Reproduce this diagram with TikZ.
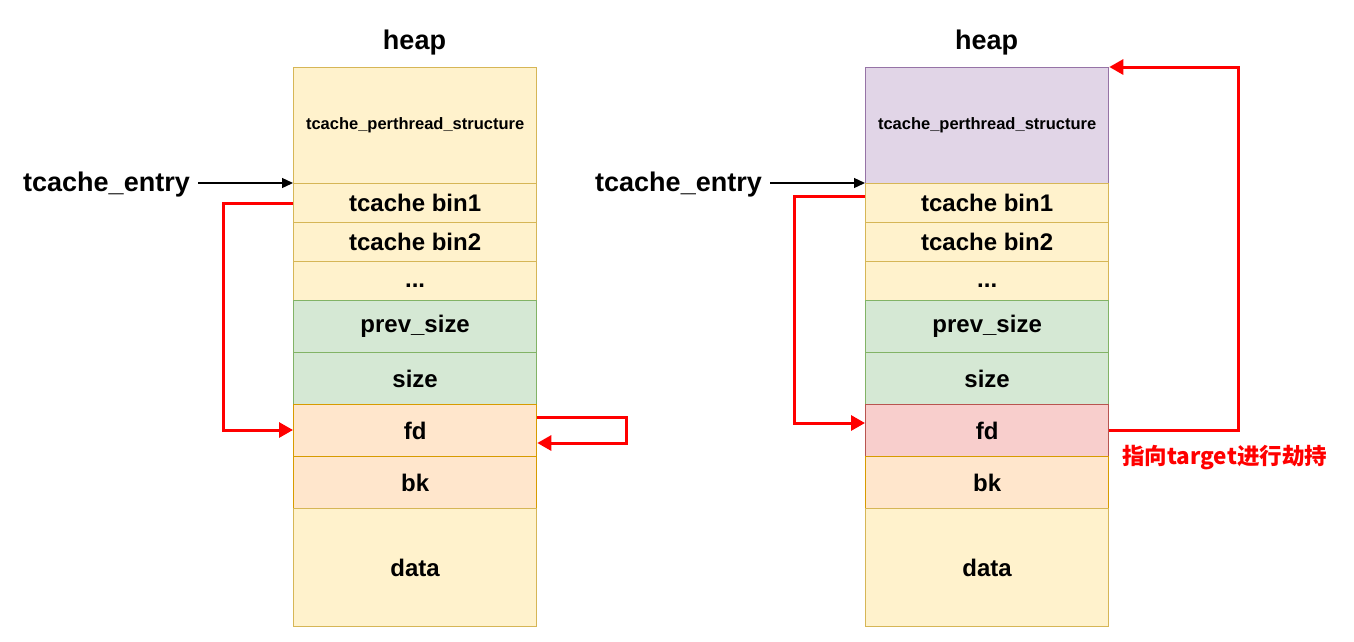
\documentclass[tikz,border=0pt]{standalone}
\usepackage{fontspec}
\setmainfont{Liberation Sans}
\newfontfamily\cjk{Noto Sans CJK SC}
\usetikzlibrary{arrows.meta}
\definecolor{yfill}{HTML}{FFF2CC}\definecolor{ydraw}{HTML}{D6B656}
\definecolor{gfill}{HTML}{D5E8D4}\definecolor{gdraw}{HTML}{82B366}
\definecolor{ofill}{HTML}{FFE6CC}\definecolor{odraw}{HTML}{D79B00}
\definecolor{pfill}{HTML}{E1D5E7}\definecolor{pdraw}{HTML}{9673A6}
\definecolor{rfill}{HTML}{F8CECC}\definecolor{rdraw}{HTML}{B85450}
\begin{document}
\begin{tikzpicture}[x=1pt,y=-1pt,
  cell/.style={draw, line width=1.3pt, inner sep=0pt, font=\bfseries\fontsize{24}{26}\selectfont},
  yc/.style={cell, fill=yfill, draw=ydraw},
  gc/.style={cell, fill=gfill, draw=gdraw},
  oc/.style={cell, fill=ofill, draw=odraw},
  pc/.style={cell, fill=pfill, draw=pdraw},
  rc/.style={cell, fill=rfill, draw=rdraw},
  lbl/.style={font=\bfseries\fontsize{27}{29}\selectfont},
  blk/.style={-{Triangle[length=11pt,width=10pt]}, line width=1.3pt},
  red/.style={draw=red, line width=3pt, line join=miter, -{Triangle[length=14pt,width=15pt]}},
]
\useasboundingbox (0,0) rectangle (1354,641);
\foreach \p/\x/\tc/\fdc in {L/293/yc/oc, R/865/pc/rc}{
  \node[lbl] (heap\p) at (\x+121.5,43) {heap};
  \node[\tc, minimum width=243pt, minimum height=116pt, anchor=north west, font=\bfseries\fontsize{16.5}{18}\selectfont] (ts\p) at (\x,67) {tcache\_perthread\_structure};
  \node[yc, minimum width=243pt, minimum height=39pt, anchor=north west] (b1\p) at (\x,183) {tcache bin1};
  \node[yc, minimum width=243pt, minimum height=39pt, anchor=north west] (b2\p) at (\x,222) {tcache bin2};
  \node[yc, minimum width=243pt, minimum height=39pt, anchor=north west] (dots\p) at (\x,261) {\raisebox{-6pt}[0pt][0pt]{...}};
  \node[gc, minimum width=243pt, minimum height=52pt, anchor=north west] (ps\p) at (\x,300) {prev\_size};
  \node[gc, minimum width=243pt, minimum height=52pt, anchor=north west] (sz\p) at (\x,352) {size};
  \node[\fdc, minimum width=243pt, minimum height=52pt, anchor=north west] (fd\p) at (\x,404) {fd};
  \node[oc, minimum width=243pt, minimum height=52pt, anchor=north west] (bk\p) at (\x,456) {bk};
  \node[yc, minimum width=243pt, minimum height=118pt, anchor=north west] (data\p) at (\x,508) {data};
}
\node[lbl, anchor=east, inner sep=0pt] (teL) at (190,185) {tcache\_entry};
\node[lbl, anchor=east, inner sep=0pt] (teR) at (762,185) {tcache\_entry};
\draw[blk] (198,183) -- (b1L.north west);
\draw[blk] (770,183) -- (b1R.north west);
% left
\coordinate (l1) at (223,203);
\coordinate (l2) at (223,430);
\draw[red] (b1L.west |- 0,203) -- (l1) -- (l2) -- (fdL.west |- 0,430);
\coordinate (f1) at (626,417);
\coordinate (f2) at (626,443);
\draw[red] (fdL.east |- 0,417) -- (f1) -- (f2) -- (fdL.east |- 0,443);
% right
\coordinate (r1) at (794,196);
\coordinate (r2) at (794,423);
\draw[red] (b1R.west |- 0,196) -- (r1) -- (r2) -- (fdR.west |- 0,423);
\coordinate (t1) at (1238,430);
\coordinate (t2) at (1238,67);
\draw[red] (fdR.east |- 0,430) -- (t1) -- (t2) -- (tsR.north east);
\node[text=red, font=\cjk\bfseries\fontsize{22.5}{24}\selectfont, anchor=west, inner sep=0pt] (note) at (1122,458) {指向target进行劫持};
\end{tikzpicture}
\end{document}
